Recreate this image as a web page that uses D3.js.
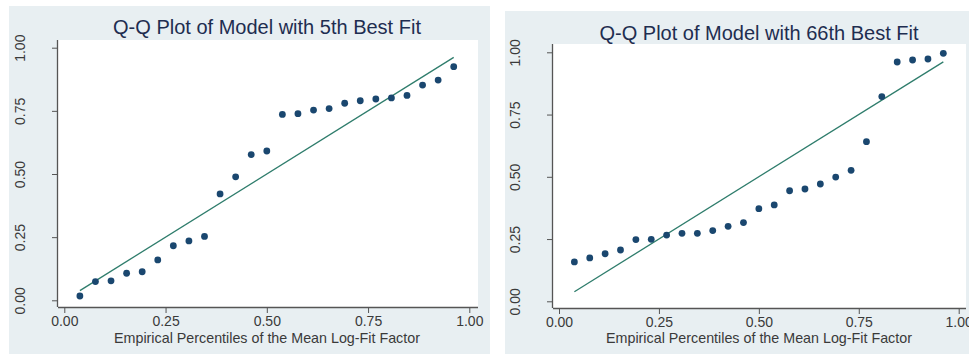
<!DOCTYPE html>
<html>
<head>
<meta charset="utf-8">
<script src="https://cdn.jsdelivr.net/npm/d3@7"></script>
<style>
  body { margin: 0; background: #ffffff; }
  svg text { font-family: "Liberation Sans", Arial, sans-serif; }
</style>
</head>
<body>
<div id="chart"></div>
<script>
// plotting positions i/26, i = 1..25
var positions = [1, 2, 3, 4, 5, 6, 7, 8, 9, 10, 11, 12, 13, 14, 15, 16, 17, 18, 19, 20, 21, 22, 23, 24, 25];
var fit5 = [0.017, 0.074, 0.077, 0.107, 0.113, 0.160, 0.216, 0.235, 0.253, 0.421, 0.489, 0.577, 0.591,
            0.736, 0.739, 0.753, 0.759, 0.780, 0.790, 0.797, 0.801, 0.811, 0.852, 0.872, 0.925];
var fit66 = [0.158, 0.174, 0.191, 0.206, 0.248, 0.249, 0.266, 0.273, 0.273, 0.284, 0.301, 0.316, 0.372,
             0.387, 0.444, 0.451, 0.471, 0.499, 0.526, 0.641, 0.822, 0.961, 0.969, 0.973, 0.996];
var tickValues = [0, 0.25, 0.5, 0.75, 1];
var titles = ["Q-Q Plot of Model with 5th Best Fit", "Q-Q Plot of Model with 66th Best Fit"];
var xLabel = "Empirical Percentiles of the Mean Log-Fit Factor";

var svg = d3.select("#chart").append("svg")
    .attr("width", 969)
    .attr("height", 354);

function drawPanel(p) {
  var g = svg.append("g");
  // panel background
  g.append("rect")
    .attr("x", p.bg[0]).attr("y", p.bg[1])
    .attr("width", p.bg[2]).attr("height", p.bg[3])
    .attr("fill", "#e8eff2");
  g.append("rect")
    .attr("x", p.plot[0]).attr("y", p.plot[1])
    .attr("width", p.plot[2] - p.plot[0]).attr("height", p.plot[3] - p.plot[1])
    .attr("fill", "#ffffff");

  var x = d3.scaleLinear().domain([0, 1]).range(p.xr);
  var y = d3.scaleLinear().domain([0, 1]).range(p.yr);

  var fmt = d3.format(".2f");
  var xAxis = g.append("g")
    .attr("transform", "translate(0," + p.plot[3] + ")")
    .call(d3.axisBottom(x).tickValues(tickValues).tickFormat(fmt).tickSize(5).tickSizeOuter(0));
  var yAxis = g.append("g")
    .attr("transform", "translate(" + p.plot[0] + ",0)")
    .call(d3.axisLeft(y).tickValues(tickValues).tickFormat(fmt).tickSize(5).tickSizeOuter(0));

  // stretch the axis lines over the whole plot region
  xAxis.select(".domain").attr("d", "M" + p.plot[0] + ",0.5H" + p.plot[2]);
  yAxis.select(".domain").attr("d", "M-0.5," + p.plot[1] + "V" + p.plot[3]);
  g.selectAll(".domain").attr("stroke", "#555").attr("stroke-width", 1.3);
  g.selectAll(".tick line").attr("stroke", "#555");

  xAxis.selectAll(".tick line").attr("transform", "translate(" + (x(0) - x(0)) + ",0)");
  // tick lines sit offset from axis like Stata
  yAxis.selectAll(".tick line").attr("x1", -6).attr("x2", -1);
  xAxis.selectAll(".tick line").attr("y1", 1).attr("y2", 6);

  xAxis.selectAll(".tick text")
    .attr("y", 9)
    .attr("font-size", 14)
    .attr("fill", "#3a3a3a");
  yAxis.selectAll(".tick text")
    .attr("font-size", 14)
    .attr("fill", "#3a3a3a")
    .attr("text-anchor", "middle")
    .attr("x", 0).attr("dy", 0).attr("y", 0)
    .attr("transform", function () {
      return "translate(" + (p.yLabelX - p.plot[0] + 5) + ",0)rotate(-90)";
    });

  // reference line y = x
  var lo = positions[0] / 26, hi = positions[positions.length - 1] / 26;
  g.append("line")
    .attr("x1", x(lo)).attr("y1", y(lo))
    .attr("x2", x(hi)).attr("y2", y(hi))
    .attr("stroke", "#2f7d6c")
    .attr("stroke-width", 1.3);

  g.selectAll("circle.pt")
    .data(p.values)
    .enter().append("circle")
    .attr("class", "pt")
    .attr("cx", function (d, i) { return x(positions[i] / 26); })
    .attr("cy", function (d) { return y(d); })
    .attr("r", 3.4)
    .attr("fill", "#1a476f");

  g.append("text")
    .attr("x", p.titleX).attr("y", p.titleY)
    .attr("text-anchor", "middle")
    .attr("font-size", 20)
    .attr("fill", "#1e2d50")
    .text(p.title);

  g.append("text")
    .attr("x", p.titleX).attr("y", 343)
    .attr("text-anchor", "middle")
    .attr("font-size", 14.3)
    .attr("fill", "#3a3a3a")
    .text(xLabel);
}

drawPanel({
  bg: [9, 6, 481, 348],
  plot: [58, 40, 478, 307],
  xr: [64.3, 469.3],
  yr: [300.3, 47.7],
  yLabelX: 20,
  titleX: 267, titleY: 34,
  title: titles[0],
  values: fit5
});

drawPanel({
  bg: [505, 11, 464, 343],
  plot: [553, 44, 966, 308],
  xr: [559, 958.7],
  yr: [301.3, 52.3],
  yLabelX: 515,
  titleX: 759, titleY: 40,
  title: titles[1],
  values: fit66
});
</script>
</body>
</html>
